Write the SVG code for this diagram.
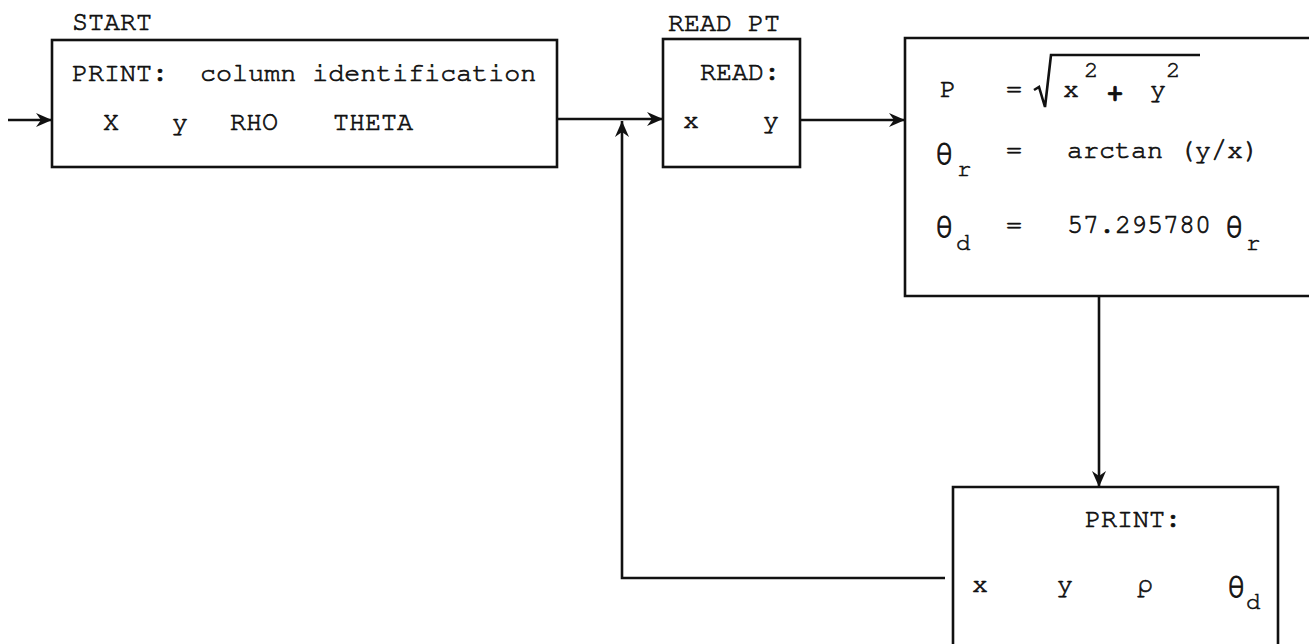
<svg xmlns="http://www.w3.org/2000/svg" width="1309" height="644" viewBox="0 0 1309 644">
  <defs>
    <style>
      .box { fill: none; stroke: #111; stroke-width: 2.6; }
      .ln { fill: none; stroke: #111; stroke-width: 2.6; }
      .t { font-family: "Nimbus Mono PS", "FreeMono", "Courier New", "Liberation Mono", monospace; font-size: 26.7px; fill: #111; stroke: #111; stroke-width: 0.7; }
      .sup { font-family: "Nimbus Mono PS", "FreeMono", "Courier New", "Liberation Mono", monospace; font-size: 24px; fill: #111; stroke: #111; stroke-width: 0.6; }
      .sym { font-family: "FreeMono", "Nimbus Mono PS", "Courier New", "DejaVu Serif", serif; font-size: 34px; fill: #111; stroke: #111; stroke-width: 0.8; }
      .rho { font-family: "FreeMono", "Nimbus Mono PS", "Courier New", "DejaVu Serif", serif; font-size: 27px; fill: #111; stroke: #111; stroke-width: 0.6; }
    </style>
    <marker id="ah" markerWidth="18" markerHeight="16" refX="16" refY="8" orient="auto" markerUnits="userSpaceOnUse">
      <path d="M0,1 L16,8 L0,15 L5,8 Z" fill="#111"/>
    </marker>
  </defs>

  <rect width="1309" height="644" fill="#fff"/>

  <g id="start">
    <text class="t" x="72" y="30">START</text>
    <rect class="box" x="52" y="40" width="505" height="127"/>
    <text class="t" x="72" y="81" xml:space="preserve">PRINT:  column identification</text>
    <text class="t" x="103" y="130">X</text>
    <text class="t" x="172" y="130">y</text>
    <text class="t" x="230" y="130">RHO</text>
    <text class="t" x="333" y="130">THETA</text>
  </g>

  <g id="read-pt">
    <text class="t" x="668" y="31">READ PT</text>
    <rect class="box" x="663" y="39" width="137" height="128"/>
    <text class="t" x="700" y="80">READ:</text>
    <text class="t" x="683" y="128">x</text>
    <text class="t" x="763" y="128">y</text>
  </g>

  <g id="compute">
    <path class="box" d="M1309,38 L905,38 L905,296 L1309,296"/>
    <text class="t" x="940" y="97">P</text>
    <text class="t" x="1006" y="97">=</text>
    <path class="ln" stroke-width="2.2" d="M1034,90 L1039,87 L1045,107 L1051,55 L1200,55"/>
    <text class="t" x="1063" y="97">x</text>
    <text class="sup" x="1084" y="77">2</text>
    <text class="t" x="1107" y="101" font-weight="bold">+</text>
    <text class="t" x="1150" y="97">y</text>
    <text class="sup" x="1166" y="77">2</text>

    <text class="sym" x="934" y="164">θ</text>
    <text class="sup" x="957" y="176">r</text>
    <text class="t" x="1006" y="158">=</text>
    <text class="t" x="1067" y="158">arctan (y/x)</text>

    <text class="sym" x="934" y="237">θ</text>
    <text class="sup" x="956" y="250">d</text>
    <text class="t" x="1006" y="233">=</text>
    <text class="t" x="1067" y="233">57.295780</text>
    <text class="sym" x="1224" y="237">θ</text>
    <text class="sup" x="1246" y="250">r</text>
  </g>

  <g id="print">
    <path class="box" d="M953,644 L953,487 L1278,487 L1278,644"/>
    <text class="t" x="1085" y="527">PRINT:</text>
    <text class="t" x="972" y="592">x</text>
    <text class="t" x="1057" y="592">y</text>
    <text class="rho" x="1137" y="592">ρ</text>
    <text class="sym" x="1226" y="597">θ</text>
    <text class="sup" x="1246" y="609">d</text>
  </g>

  <g id="connectors">
    <line class="ln" x1="8" y1="120" x2="52" y2="120" marker-end="url(#ah)"/>
    <line class="ln" x1="557" y1="119" x2="663" y2="119" marker-end="url(#ah)"/>
    <line class="ln" x1="800" y1="120" x2="905" y2="120" marker-end="url(#ah)"/>
    <line class="ln" x1="1099" y1="296" x2="1099" y2="487" marker-end="url(#ah)"/>
    <polyline class="ln" points="945,578 622,578 622,121" marker-end="url(#ah)"/>
  </g>
</svg>
